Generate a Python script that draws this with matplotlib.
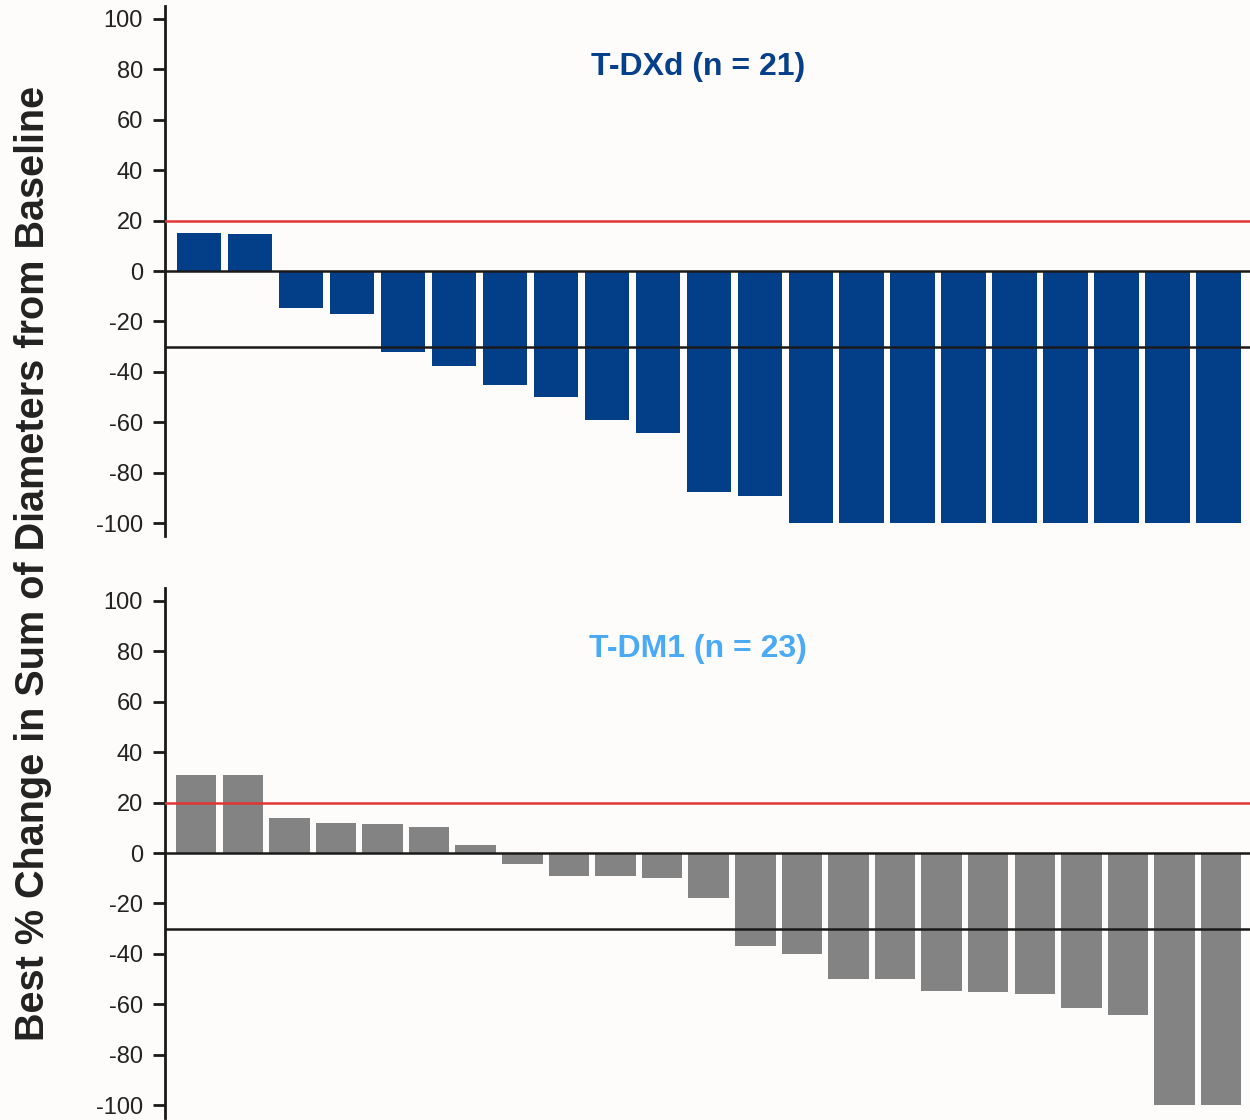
import matplotlib
matplotlib.use("Agg")
import matplotlib.pyplot as plt
import numpy as np

plt.rcParams['font.family'] = ['Liberation Sans', 'DejaVu Sans']

# best % change for each patient
tdxd_values = [15, 14.5, -14.5, -17, -32, -37.5, -45, -50, -59, -64, -87.5, -89,
               -100, -100, -100, -100, -100, -100, -100, -100, -100]
tdm1_values = [31, 31, 14, 12, 11.5, 10.5, 3, -4.5, -9, -9, -10, -18, -37, -40,
               -50, -50, -54.5, -55, -56, -61.5, -64, -100, -100]

panel_titles = ['T-DXd (n = 21)', 'T-DM1 (n = 23)']
title_colors = ['#063f8a', '#4aaaf5']
bar_colors = ['#033f88', '#838383']
yticks = [100, 80, 60, 40, 20, 0, -20, -40, -60, -80, -100]

bg = '#fdfcfa'
fig = plt.figure(figsize=(12.5, 11.2), dpi=100, facecolor=bg)

ax_top = fig.add_axes([165 / 1250, 584 / 1120, 1085 / 1250, 530 / 1120])
ax_bot = fig.add_axes([165 / 1250, 2 / 1120, 1085 / 1250, 530 / 1120])

for ax, vals, title, tcol, bcol in zip([ax_top, ax_bot], [tdxd_values, tdm1_values],
                                       panel_titles, title_colors, bar_colors):
    ax.set_facecolor(bg)
    x = np.arange(len(vals))
    ax.bar(x, vals, width=0.87, color=bcol, zorder=2)
    ax.axhline(20, color='#e03535', linewidth=1.8, zorder=3)
    ax.axhline(0, color='#1a1a1a', linewidth=1.8, zorder=3)
    ax.axhline(-30, color='#1a1a1a', linewidth=1.8, zorder=3)
    ax.set_xlim(-0.67, len(vals) - 1 + 0.62)
    ax.set_ylim(-105, 105)
    ax.set_yticks(yticks)
    ax.set_yticklabels([str(t) for t in yticks])
    ax.set_xticks([])
    for s in ['top', 'right', 'bottom']:
        ax.spines[s].set_visible(False)
    ax.spines['left'].set_linewidth(2)
    ax.spines['left'].set_color('#1a1a1a')
    ax.tick_params(axis='y', length=9, width=2, color='#1a1a1a', pad=7,
                   labelsize=17, labelcolor='#222222')
    ax.text(0.491, 0.885, title, transform=ax.transAxes, ha='center', va='center',
            fontsize=23, fontweight='bold', color=tcol)

fig.text(33 / 1250, 0.497, 'Best % Change in Sum of Diameters from Baseline',
         rotation=90, ha='center', va='center', fontsize=28.5, fontweight='bold',
         color='#222222')

fig.savefig('out.png', dpi=100, facecolor=bg)
